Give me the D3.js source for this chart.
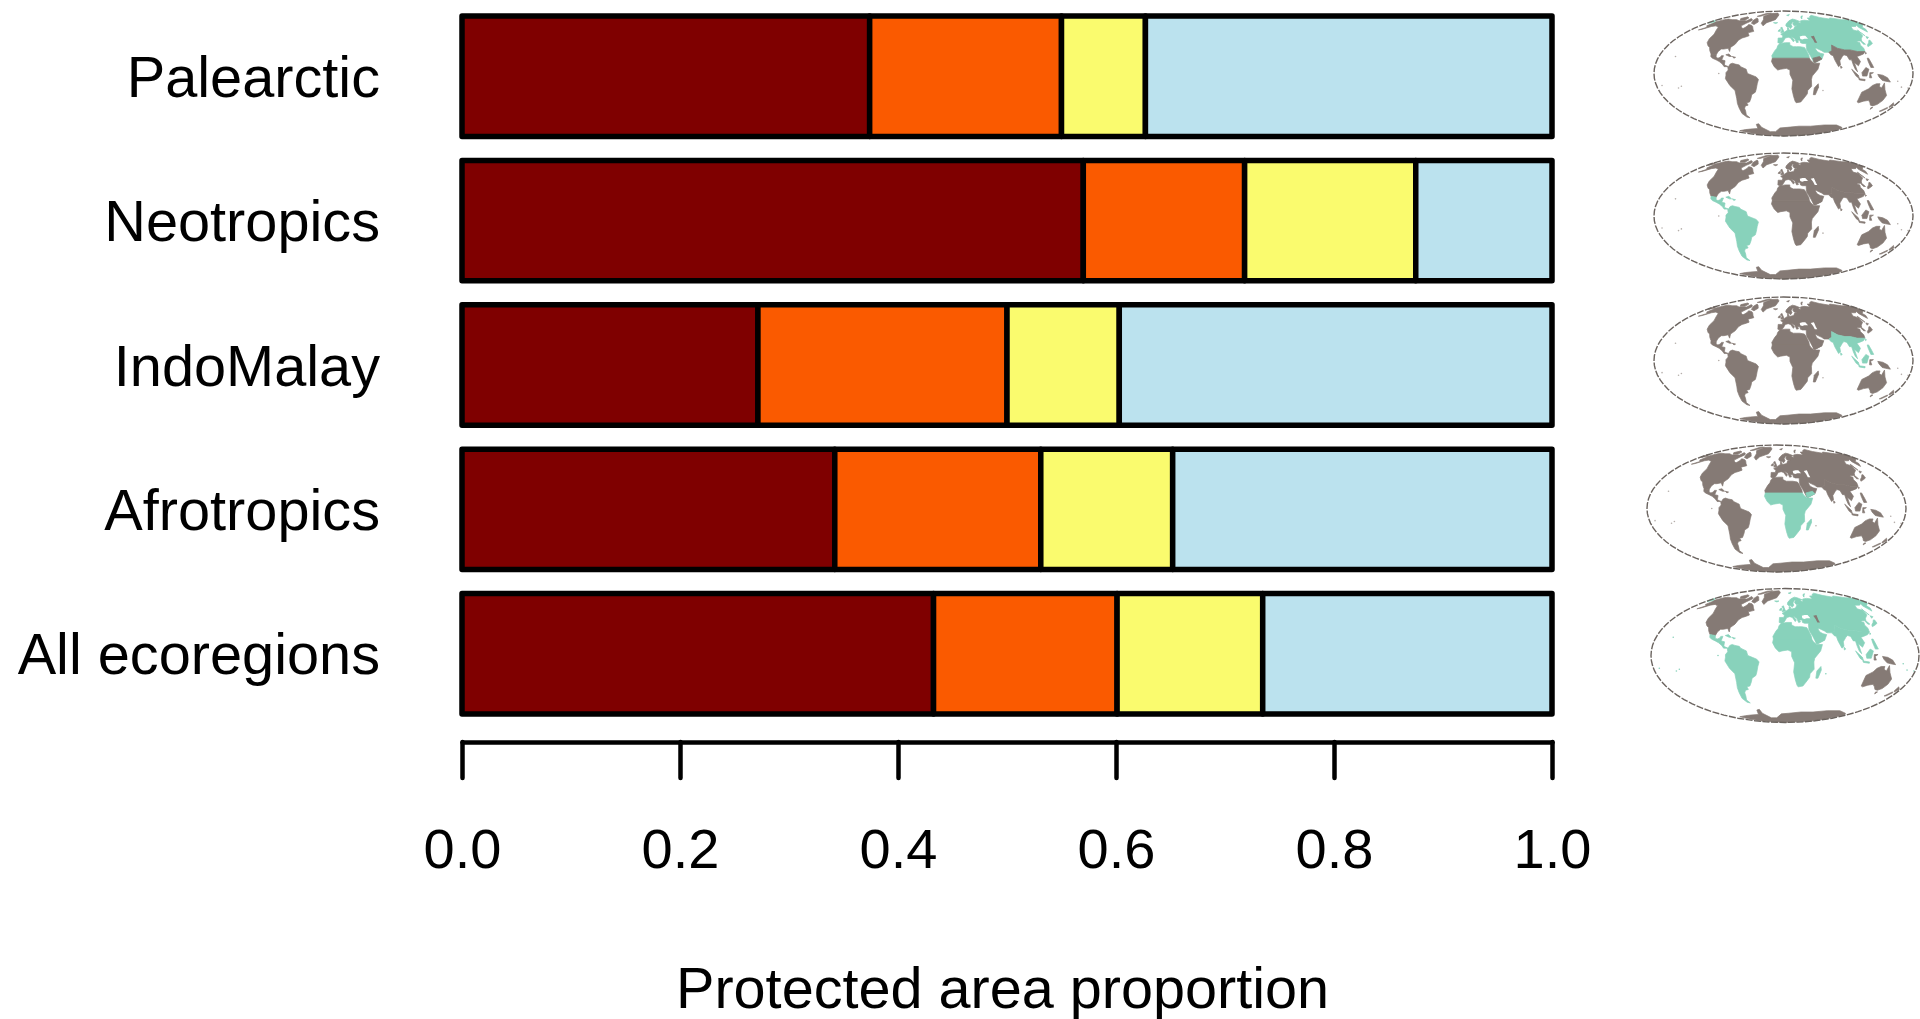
<!DOCTYPE html>
<html>
<head>
<meta charset="utf-8">
<script src="https://cdn.jsdelivr.net/npm/d3@7/dist/d3.min.js"></script>
<style>
html,body{margin:0;padding:0;background:#fff}
svg{display:block}
text{font-family:"Liberation Sans",Arial,Helvetica,sans-serif;fill:#000}
</style>
</head>
<body>
<svg id="chart" width="1920" height="1019"></svg>
<script>
const categories = ["Palearctic","Neotropics","IndoMalay","Afrotropics","All ecoregions"];
const shareDarkRed = [0.374,0.570,0.2715,0.342,0.4326];
const shareOrange  = [0.176,0.148,0.2285,0.189,0.1684];
const shareYellow  = [0.077,0.157,0.103,0.121,0.1336];
const shareBlue    = [0.373,0.125,0.397,0.348,0.2654];
const seriesColors = ["#7f0000","#fa5a00","#fafb6e","#bbe2ee"];
const tickValues = [0,0.2,0.4,0.6,0.8,1.0];
const axisTitle = "Protected area proportion";
const highlighted = [
  ["palearctic"],["neotropic"],["indomalay"],["afrotropic"],
  ["palearctic","neotropic","indomalay","afrotropic"]
];

// Simplified land outlines, [longitude, latitude]
const nearctic = [
 [[-168,66],[-162,70],[-156,71],[-141,70],[-128,70],[-115,68],[-108,68],[-95,68],[-94,72],[-85,70],[-82,68],[-87,64],[-91,60],[-86,57.5],[-81,56],[-79,57.5],[-77,60],[-78,62],[-70,61],[-65,59],[-60,55],[-56,52],[-65,50],[-60,46],[-66,44],[-70,43],[-74,40],[-76,35],[-81,31],[-80,26],[-82,28],[-84,30],[-90,29],[-94,29],[-97,26],[-98,22],[-106,23],[-110,27],[-113,31],[-117,33],[-122,37],[-124,42],[-124,48],[-130,54],[-135,58],[-145,60],[-152,59],[-160,55],[-165,54],[-158,58],[-165,60],[-165,64]],
 [[-80,73],[-72,71],[-62,66],[-66,62],[-75,64],[-80,69]],
 [[-90,76],[-85,82],[-65,83],[-75,78],[-80,76]],
 [[-125,72],[-117,75],[-105,73],[-103,69],[-115,69]],
 [[-60,82],[-30,83],[-18,79],[-22,70],[-40,65],[-44,60],[-52,64],[-55,70],[-68,76]]
];
const neotropic = [
 [[-106,23],[-98,22],[-97,19],[-94,18],[-91,19],[-90,21],[-87,21],[-88,16],[-83,15],[-83,10],[-80,9],[-77,8],[-75,11],[-72,12],[-68,11],[-62,10],[-60,8],[-52,5],[-50,0],[-44,-2],[-38,-4],[-35,-7],[-37,-12],[-39,-18],[-41,-22],[-47,-25],[-49,-29],[-53,-34],[-58,-35],[-57,-38],[-62,-39],[-65,-42],[-66,-46],[-69,-51],[-66,-55],[-71,-54],[-75,-49],[-74,-42],[-73,-36],[-71,-30],[-70,-20],[-76,-14],[-81,-6],[-80,-2],[-80,1],[-77,4],[-78,8],[-83,8],[-86,11],[-91,14],[-96,16],[-102,18],[-105,20]],
 [[-84,22],[-80,23],[-75,20],[-78,20]],
 [[-74,20],[-69,19],[-71,18]]
];
const palearctic = [
 [[-9,37],[-9,43],[-2,43],[-1,46],[-5,48],[2,51],[8,54],[8,57],[11,56],[10,54],[14,54],[20,55],[24,59],[30,60],[23,60],[21,63],[25,66],[22,66],[17,62],[18,59],[14,56],[12,58],[8,58],[5,60],[6,63],[14,68],[25,71],[32,70],[41,67],[35,66],[40,64],[44,68],[55,69],[68,68],[72,73],[80,73],[90,76],[105,78],[113,74],[130,71],[140,73],[160,70],[170,70],[180,69],[180,65],[178,62],[170,60],[163,58],[162,55],[156,51],[155,58],[160,61],[152,59],[142,59],[135,54],[141,52],[138,46],[130,42],[127,39],[129,35],[126,35],[125,39],[121,39],[118,38],[122,37],[120,34],[122,30],[121,26],[110,26],[100,28],[92,28],[82,30],[75,34],[72,27],[67,25],[60,25],[57,27],[50,30],[48,30],[50,26],[54,24],[59,23],[55,17],[45,13],[43,13],[39,21],[35,28],[35,31],[36,36],[30,36],[27,37],[27,40],[23,40],[24,37.5],[21,37],[19,42],[13,45],[18,40],[16,38],[12,43],[8,44],[3,43],[0,39],[-2,37],[-5,36]],
 [[-6,36],[3,37],[10,37],[10,34],[15,32],[20,32],[25,32],[32,31],[34,28],[37,21],[37,18],[-16,18],[-17,21],[-13,27],[-10,30],[-9,33]],
 [[-180,69],[-172,67],[-170,66],[-175,64],[-180,65]],
 [[130,32],[136,34],[141,36],[142,40],[140,40],[136,37],[131,34]],
 [[140,42],[145,44],[142,45]],
 [[142,46],[143,54],[142,53]],
 [[-5,50],[1,51],[-2,56],[-3,58],[-6,57],[-3,54]],
 [[-10,52],[-6,52],[-6,55],[-9,54]],
 [[-24,65],[-14,65],[-18,63.5]],
 [[52,71],[58,74],[68,77],[60,76],[53,73]],
 [[12,78],[25,80],[18,77]]
];
const afrotropic = [
 [[-16,18],[37,18],[39,15],[43,12],[51,12],[48,5],[40,-3],[39,-7],[40,-15],[35,-20],[35,-24],[32,-28],[27,-34],[20,-35],[18,-33],[15,-27],[12,-18],[13,-8],[9,-1],[9,4],[4,6],[-4,5],[-8,4],[-13,8],[-17,14]],
 [[49,-12],[50,-16],[47,-25],[44,-25],[44,-17]],
 [[43,13],[45,13],[55,17],[52,20],[42,18]]
];
const indomalay = [
 [[72,27],[75,34],[82,30],[92,28],[100,28],[110,26],[121,26],[117,23],[110,21],[106,20],[109,14],[105,9],[100,13],[103,2],[100,5],[98,10],[97,16],[94,16],[92,21],[88,22],[85,20],[80,15],[80,10],[77,8],[73,16],[72,21],[69,22],[67,25]],
 [[95,5],[104,-2],[106,-6],[101,-3]],
 [[105,-6],[114,-7],[114,-8.5],[106,-7.5]],
 [[109,1],[115,7],[119,5],[116,-3],[110,-3]],
 [[120,18],[122,18],[124,12],[126,7],[122,7],[120,14]],
 [[120,23],[121,25],[122,24]],
 [[80,9],[82,7],[80,6]]
];
const australasia = [
 [[114,-22],[122,-18],[126,-14],[131,-12],[136,-12],[136,-15],[140,-17],[142,-11],[146,-19],[153,-26],[153,-32],[150,-37],[145,-39],[140,-38],[136,-35],[131,-32],[124,-33],[118,-35],[115,-34]],
 [[145,-41],[148,-41],[147,-43.5]],
 [[173,-35],[178,-38],[175,-41],[173,-40]],
 [[172,-41],[174,-42],[170,-46],[167,-46]],
 [[131,-1],[138,-2],[145,-5],[150,-10],[143,-9],[138,-8],[133,-4]],
 [[120,1],[125,1],[121,-1],[123,-5],[120,-5]]
];
const antarctica = [
 [[-150,-76],[-120,-74],[-100,-73],[-75,-72],[-65,-65],[-58,-64],[-60,-70],[-50,-78],[-30,-78],[-10,-71],[10,-70],[40,-68],[70,-68],[100,-66],[130,-66],[160,-70],[170,-72],[170,-76],[170,-80],[170,-85],[170,-90],[-150,-90],[-150,-85],[-150,-80]]
];
const blackSea = [[28,42],[28,45],[33,46],[38,46],[41,42],[35,42],[31,41]];
const caspianSea = [[47,45],[53,46],[53,40],[54,37],[50,37],[49,41]];
const islandSpecks = [[-150,-17],[-145,-15],[-156,20],[-172,-14],[178,-17],[168,-16],[160,-9],[57,-20],[-90,0]];

const regions = {nearctic,neotropic,palearctic,afrotropic,indomalay,australasia,antarctica};
const landGray = "#857a74", regionTeal = "#88d2bb";

// Map frames: centre x, centre y, x radius, y radius
const mapFrames = [
 {cx:1783.5,cy:73.5,rx:129.5,ry:62.5},
 {cx:1783.5,cy:216,rx:129.5,ry:63},
 {cx:1783.5,cy:360.5,rx:129.5,ry:63.5},
 {cx:1776.5,cy:508.5,rx:129.5,ry:63.5},
 {cx:1785,cy:655.5,rx:134,ry:67}
];

const svg = d3.select("#chart");
const defs = svg.append("defs");
defs.append("filter").attr("id","soft").append("feGaussianBlur").attr("stdDeviation",0.45);

const x = d3.scaleLinear().domain([0,1]).range([462,1552]);
const y = d3.scaleBand().domain(categories).range([16,714]).paddingInner(0.166).paddingOuter(0);

const rows = categories.map((c,i)=>({category:c,a:shareDarkRed[i],b:shareOrange[i],c:shareYellow[i],d:shareBlue[i]}));
const stacked = d3.stack().keys(["a","b","c","d"])(rows);

const layers = svg.append("g").selectAll("g").data(stacked).join("g")
  .attr("fill",(d,i)=>seriesColors[i]);
layers.selectAll("rect").data(d=>d.map(v=>({v,cat:v.data.category}))).join("rect")
  .attr("x",d=>x(d.v[0]))
  .attr("y",d=>y(d.cat))
  .attr("width",d=>x(d.v[1])-x(d.v[0]))
  .attr("height",y.bandwidth())
  .attr("stroke","#000")
  .attr("stroke-width",5.5)
  .attr("stroke-linejoin","round");

// Category labels
svg.append("g").selectAll("text").data(categories).join("text")
  .attr("x",380)
  .attr("y",d=>y(d)+y.bandwidth()/2+20.5)
  .attr("text-anchor","end")
  .attr("font-size",57.7)
  .text(d=>d);

// Axis
const axis = d3.axisBottom(x).tickValues(tickValues).tickFormat(d3.format(".1f")).tickSizeOuter(0).tickSizeInner(36);
const gAxis = svg.append("g").attr("transform","translate(0,742)").call(axis);
gAxis.select(".domain").attr("stroke","#000").attr("stroke-width",4.5).attr("stroke-linecap","round");
gAxis.selectAll(".tick line").attr("stroke","#000").attr("stroke-width",4.5).attr("stroke-linecap","round");
gAxis.selectAll(".tick text").attr("y",126).attr("dy",0).attr("font-size",56).attr("font-family",'"Liberation Sans",Arial,sans-serif').attr("fill","#000");

svg.append("text").attr("x",676).attr("y",1008).attr("font-size",57.6).text(axisTitle);

// Maps
function mollweideRaw(aspect){
  const raw = (lambda,phi)=>{
    let t = phi;
    const target = Math.PI*Math.sin(phi);
    if (Math.abs(Math.abs(phi)-Math.PI/2)<1e-6) t = phi;
    else for(let i=0;i<30;i++){
      const dt = (2*t+Math.sin(2*t)-target)/(2+2*Math.cos(2*t));
      t -= dt;
      if(Math.abs(dt)<1e-7) break;
    }
    return [2*Math.SQRT2/Math.PI*lambda*Math.cos(t), Math.SQRT2*Math.sin(t)*aspect];
  };
  return raw;
}

mapFrames.forEach((f,idx)=>{
  const aspect = (f.ry/f.rx)*2;
  const projection = d3.geoProjection(mollweideRaw(aspect))
    .scale(f.rx/(2*Math.SQRT2))
    .translate([f.cx,f.cy])
    .precision(0.2);
  const sphere = d3.geoPath(projection);
  const line = d3.line().curve(d3.curveLinearClosed);
  const shape = pts=>line(pts.map(p=>projection(p)));
  const g = svg.append("g").attr("filter","url(#soft)");
  const teal = new Set(highlighted[idx]);
  Object.keys(regions).forEach(name=>{
    const color = teal.has(name)?regionTeal:landGray;
    g.append("g").attr("fill",color).attr("stroke",color).attr("stroke-width",0.7)
      .selectAll("path").data(regions[name]).join("path")
      .attr("d",shape);
  });
  g.append("path").attr("d",shape(blackSea)).attr("fill","#fff");
  g.append("path").attr("d",shape(caspianSea)).attr("fill",teal.has("palearctic")?landGray:"#fff");
  g.selectAll("circle").data(islandSpecks).join("circle")
    .attr("cx",d=>projection(d)[0]).attr("cy",d=>projection(d)[1]).attr("r",0.8)
    .attr("fill",teal.size>1?regionTeal:"#b5aeaa");
  g.append("path").attr("d",sphere({type:"Sphere"}))
    .attr("fill","none").attr("stroke","#6a635e").attr("stroke-width",1.4).attr("stroke-dasharray","7 1.5");
});
</script>
</body>
</html>
